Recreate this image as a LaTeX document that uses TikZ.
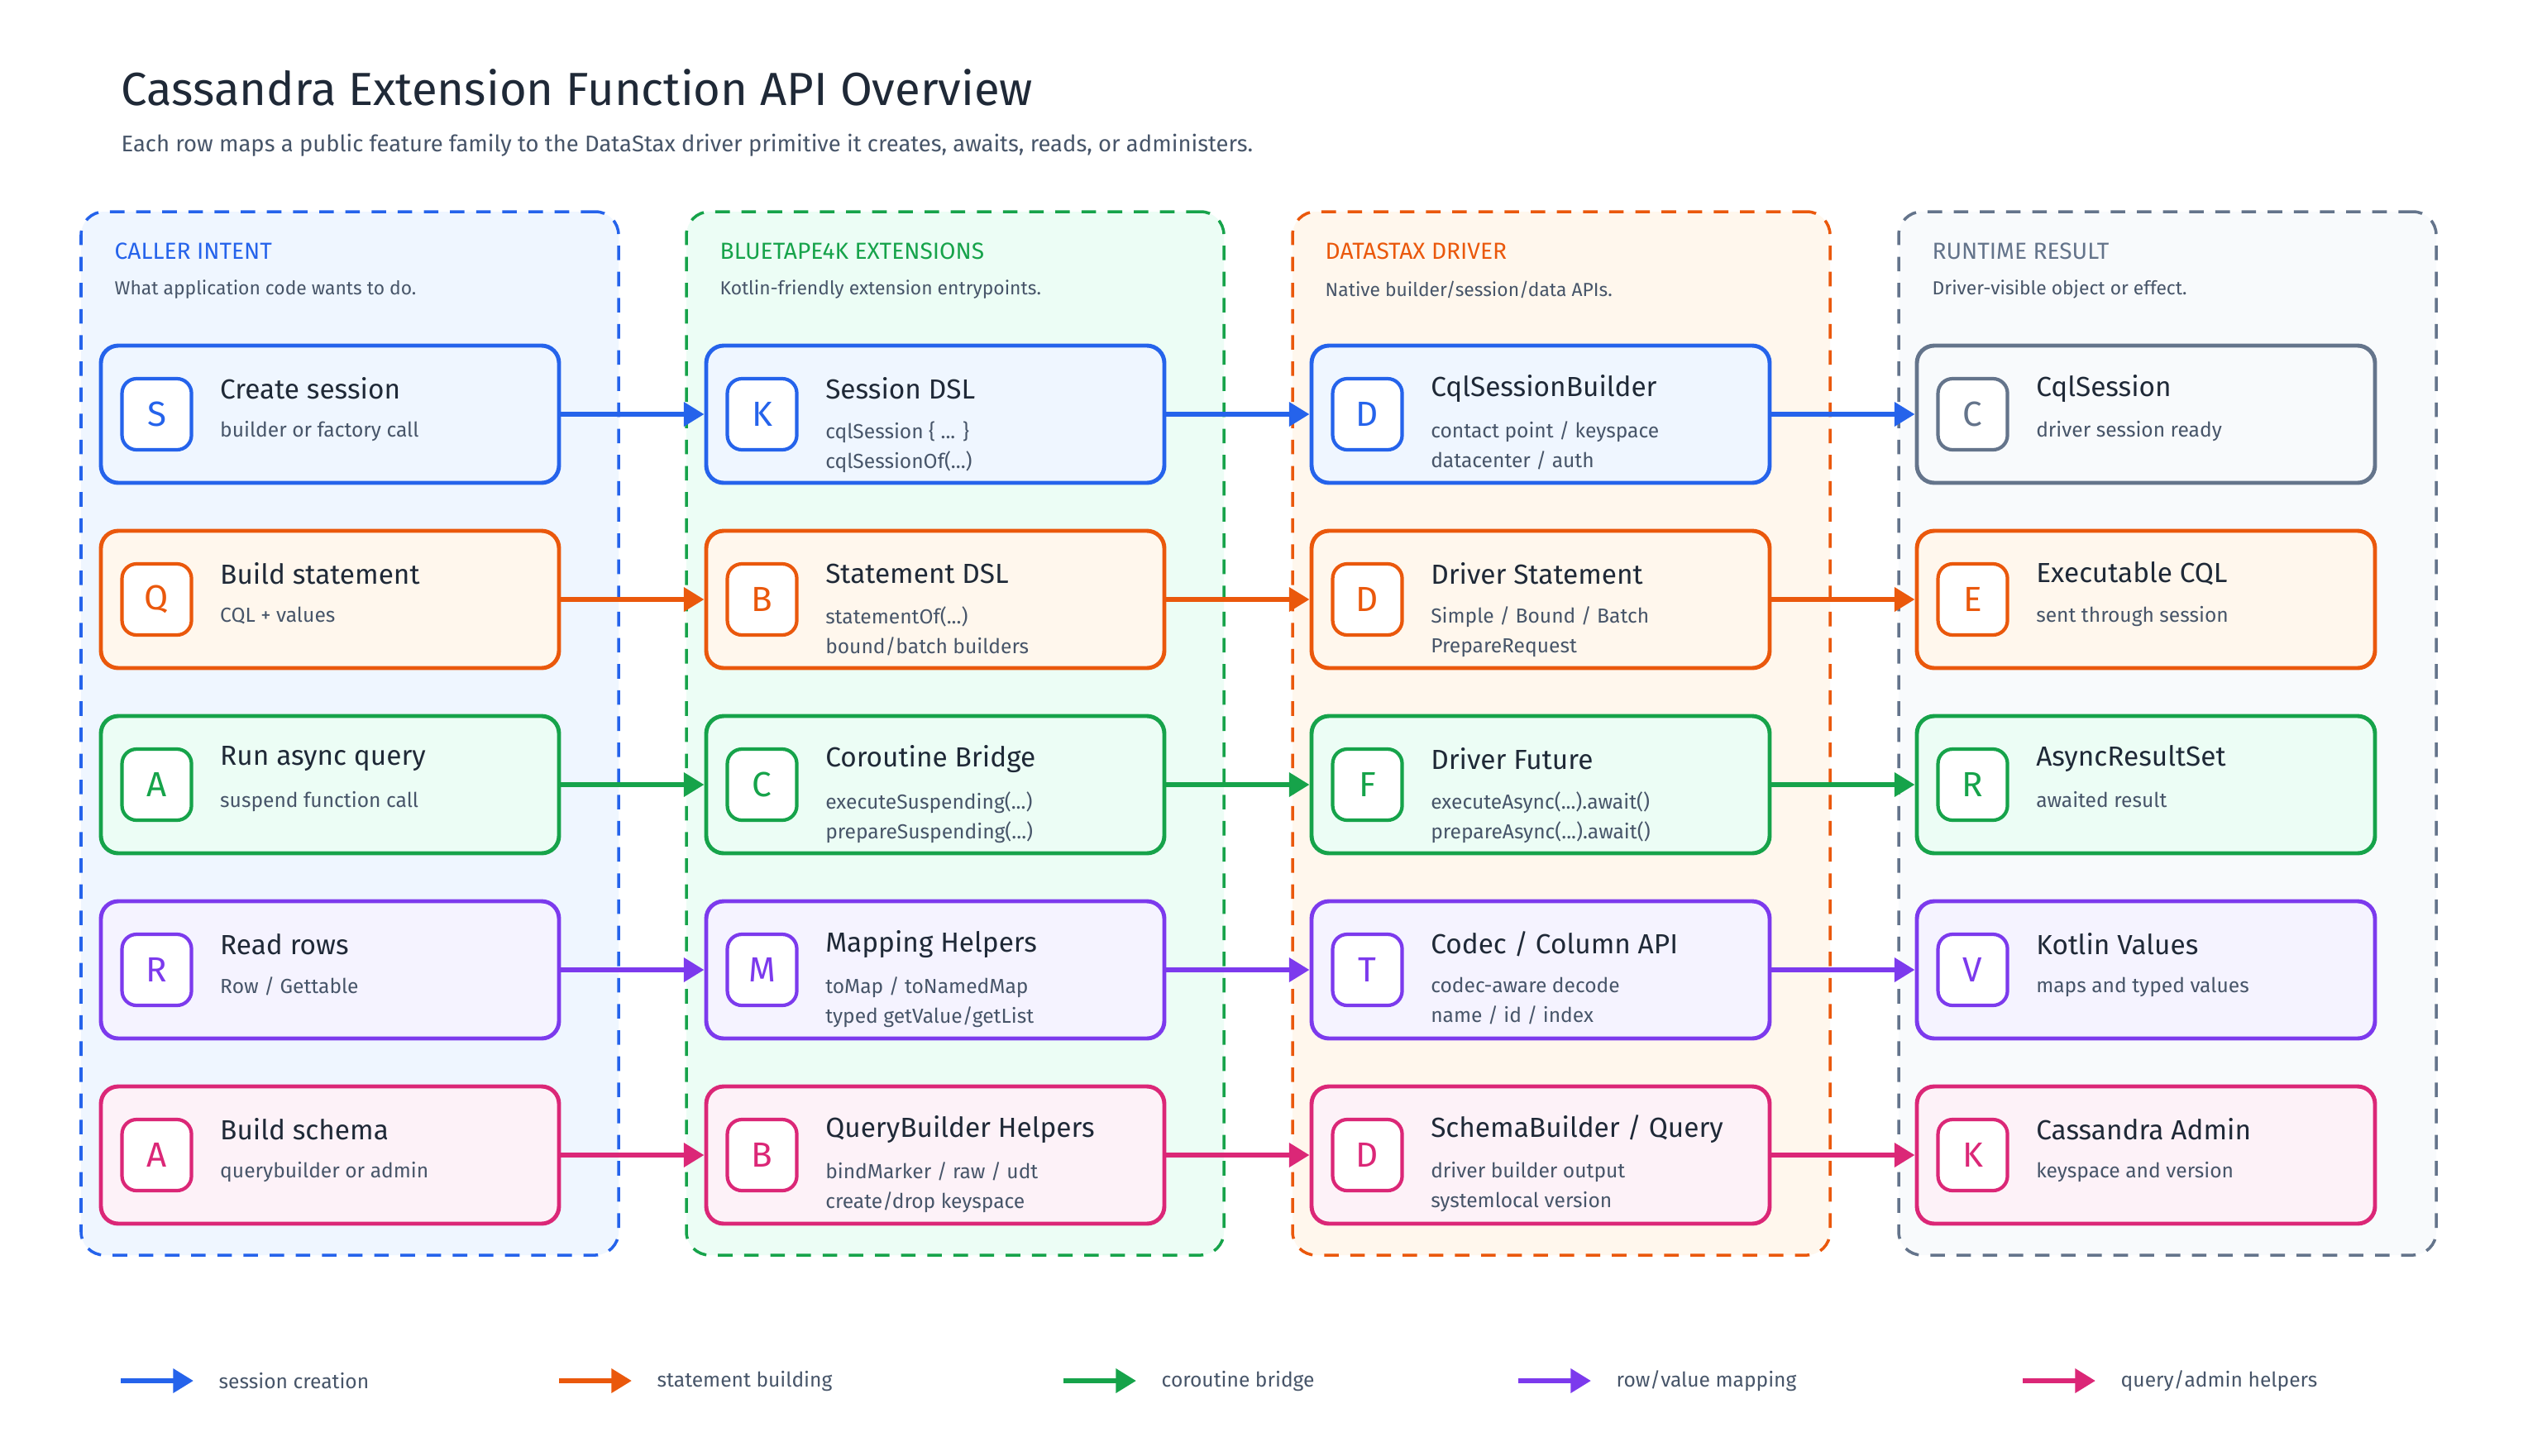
\documentclass[tikz,border=0pt]{standalone}
\usepackage{fontspec}
\setmainfont{Fira Sans}
\usetikzlibrary{arrows.meta,positioning}

\definecolor{cblue}{HTML}{2563EB}   \definecolor{fblue}{HTML}{EFF6FF}
\definecolor{corange}{HTML}{EA580C} \definecolor{forange}{HTML}{FFF7ED}
\definecolor{cgreen}{HTML}{16A34A}  \definecolor{fgreen}{HTML}{ECFDF5}
\definecolor{cpurple}{HTML}{7C3AED} \definecolor{fpurple}{HTML}{F5F3FF}
\definecolor{cpink}{HTML}{DB2777}   \definecolor{fpink}{HTML}{FDF2F8}
\definecolor{cslate}{HTML}{64748B}  \definecolor{fslate}{HTML}{F8FAFC}
\definecolor{ink}{HTML}{1F2937}     \definecolor{muted}{HTML}{475569}

% card: name, x, y, colour, letter, title, sub text
\newcommand{\card}[7]{%
  \node at (#2, #3) [card, draw=c#4, fill=f#4, name=#1] {};
  \node at ([xshift=0.70cm]#1.west) [icon, draw=c#4, text=c#4, name=#1i] {#5};
  \node at ([xshift=1.46cm, yshift=0.31cm]#1.west) [cardtitle, name=#1t] {#6};
  \node at ([xshift=1.46cm, yshift=-0.08cm]#1.west) [cardsub, name=#1s] {#7};
}

\begin{document}
\begin{tikzpicture}[
    x=1cm, y=-1cm,
    panel/.style = {rectangle, draw, line width=1pt, rounded corners=8pt,
                    dash pattern=on 5pt off 4pt, minimum width=6.5cm, minimum height=12.62cm},
    card/.style = {rectangle, line width=1.4pt, rounded corners=6pt,
                   minimum width=5.54cm, minimum height=1.66cm},
    icon/.style = {rectangle, line width=1.2pt, fill=white, rounded corners=5pt,
                   minimum width=0.84cm, minimum height=0.86cm, font=\fontsize{12pt}{14pt}\selectfont},
    cardtitle/.style = {anchor=west, inner sep=0pt, text=ink, font=\fontsize{9.5pt}{11pt}\selectfont},
    cardsub/.style = {anchor=north west, inner sep=0pt, align=left, text=muted,
                      font=\fontsize{7pt}{10.2pt}\selectfont},
    head/.style = {anchor=west, inner sep=0pt, font=\fontsize{8pt}{10pt}\selectfont},
    headsub/.style = {anchor=west, inner sep=0pt, text=muted, font=\fontsize{6.5pt}{8pt}\selectfont},
    flow/.style = {line width=1.8pt, -{Triangle[length=7pt,width=8pt]}},
    legend/.style = {anchor=west, inner sep=0pt, text=muted, font=\fontsize{7pt}{9pt}\selectfont}]
  \fill [white] (0, 0) rectangle (30.8, 17.6);
  \path [use as bounding box] (0, 0) rectangle (30.8, 17.6);

  % Title.
  \node at (1.46, 1.06) [anchor=west, inner sep=0pt, text=ink, font=\fontsize{16pt}{19pt}\selectfont, name=Title]
        {Cassandra Extension Function API Overview};
  \node at (1.46, 1.76) [anchor=west, inner sep=0pt, text=muted, font=\fontsize{7.8pt}{9pt}\selectfont, name=Subtitle]
        {Each row maps a public feature family to the DataStax driver primitive it creates, awaits, reads, or administers.};

  % Panels.
  \node at (4.23, 8.87) [panel, draw=cblue, fill=fblue, name=CallerPanel] {};
  \node at (11.55, 8.87) [panel, draw=cgreen, fill=fgreen, name=ExtPanel] {};
  \node at (18.88, 8.87) [panel, draw=corange, fill=forange, name=DriverPanel] {};
  \node at (26.21, 8.87) [panel, draw=cslate, fill=fslate, name=ResultPanel] {};

  \node at (1.38, 3.04) [head, text=cblue] {CALLER INTENT};
  \node at (1.38, 3.50) [headsub] {What application code wants to do.};
  \node at (8.70, 3.04) [head, text=cgreen] {BLUETAPE4K EXTENSIONS};
  \node at (8.70, 3.50) [headsub] {Kotlin-friendly extension entrypoints.};
  \node at (16.02, 3.04) [head, text=corange] {DATASTAX DRIVER};
  \node at (16.02, 3.50) [headsub] {Native builder/session/data APIs.};
  \node at (23.36, 3.04) [head, text=cslate] {RUNTIME RESULT};
  \node at (23.36, 3.50) [headsub] {Driver-visible object or effect.};

  % Row 1: session creation.
  \card{CreateSession}{3.99}{5.01}{blue}{S}{Create session}{builder or factory call}
  \card{SessionDsl}{11.31}{5.01}{blue}{K}{Session DSL}{cqlSession \{ ... \}\\cqlSessionOf(...)}
  \card{SessionBuilder}{18.63}{5.01}{blue}{D}{CqlSessionBuilder}{contact point / keyspace\\datacenter / auth}
  \card{CqlSession}{25.95}{5.01}{slate}{C}{CqlSession}{driver session ready}

  % Row 2: statement building.
  \card{BuildStatement}{3.99}{7.25}{orange}{Q}{Build statement}{CQL + values}
  \card{StatementDsl}{11.31}{7.25}{orange}{B}{Statement DSL}{statementOf(...)\\bound/batch builders}
  \card{DriverStatement}{18.63}{7.25}{orange}{D}{Driver Statement}{Simple / Bound / Batch\\PrepareRequest}
  \card{ExecutableCql}{25.95}{7.25}{orange}{E}{Executable CQL}{sent through session}

  % Row 3: coroutine bridge.
  \card{RunAsync}{3.99}{9.49}{green}{A}{Run async query}{suspend function call}
  \card{CoroutineBridge}{11.31}{9.49}{green}{C}{Coroutine Bridge}{executeSuspending(...)\\prepareSuspending(...)}
  \card{DriverFuture}{18.63}{9.49}{green}{F}{Driver Future}{executeAsync(...).await()\\prepareAsync(...).await()}
  \card{AsyncResultSet}{25.95}{9.49}{green}{R}{AsyncResultSet}{awaited result}

  % Row 4: row/value mapping.
  \card{ReadRows}{3.99}{11.73}{purple}{R}{Read rows}{Row / Gettable}
  \card{MappingHelpers}{11.31}{11.73}{purple}{M}{Mapping Helpers}{toMap / toNamedMap\\typed getValue/getList}
  \card{CodecApi}{18.63}{11.73}{purple}{T}{Codec / Column API}{codec-aware decode\\name / id / index}
  \card{KotlinValues}{25.95}{11.73}{purple}{V}{Kotlin Values}{maps and typed values}

  % Row 5: query/admin helpers.
  \card{BuildSchema}{3.99}{13.97}{pink}{A}{Build schema}{querybuilder or admin}
  \card{QueryHelpers}{11.31}{13.97}{pink}{B}{QueryBuilder Helpers}{bindMarker / raw / udt\\create/drop keyspace}
  \card{SchemaBuilder}{18.63}{13.97}{pink}{D}{SchemaBuilder / Query}{driver builder output\\systemlocal version}
  \card{CassandraAdmin}{25.95}{13.97}{pink}{K}{Cassandra Admin}{keyspace and version}

  % Flows.
  \draw [flow, cblue] (CreateSession) -- (SessionDsl);
  \draw [flow, cblue] (SessionDsl) -- (SessionBuilder);
  \draw [flow, cblue] (SessionBuilder) -- (CqlSession);
  \draw [flow, corange] (BuildStatement) -- (StatementDsl);
  \draw [flow, corange] (StatementDsl) -- (DriverStatement);
  \draw [flow, corange] (DriverStatement) -- (ExecutableCql);
  \draw [flow, cgreen] (RunAsync) -- (CoroutineBridge);
  \draw [flow, cgreen] (CoroutineBridge) -- (DriverFuture);
  \draw [flow, cgreen] (DriverFuture) -- (AsyncResultSet);
  \draw [flow, cpurple] (ReadRows) -- (MappingHelpers);
  \draw [flow, cpurple] (MappingHelpers) -- (CodecApi);
  \draw [flow, cpurple] (CodecApi) -- (KotlinValues);
  \draw [flow, cpink] (BuildSchema) -- (QueryHelpers);
  \draw [flow, cpink] (QueryHelpers) -- (SchemaBuilder);
  \draw [flow, cpink] (SchemaBuilder) -- (CassandraAdmin);

  % Legend.
  \foreach \x/\col/\txt in {1.46/cblue/session creation, 6.76/corange/statement building,
                            12.86/cgreen/coroutine bridge, 18.36/cpurple/row\slash value mapping,
                            24.46/cpink/query\slash admin helpers} {
    \coordinate (legA) at (\x, 16.70);
    \coordinate (legB) at (\x+0.88, 16.70);
    \draw [flow, \col] (legA) -- (legB);
    \node at (\x+1.18, 16.70) [legend] {\txt};
  }
\end{tikzpicture}
\end{document}
